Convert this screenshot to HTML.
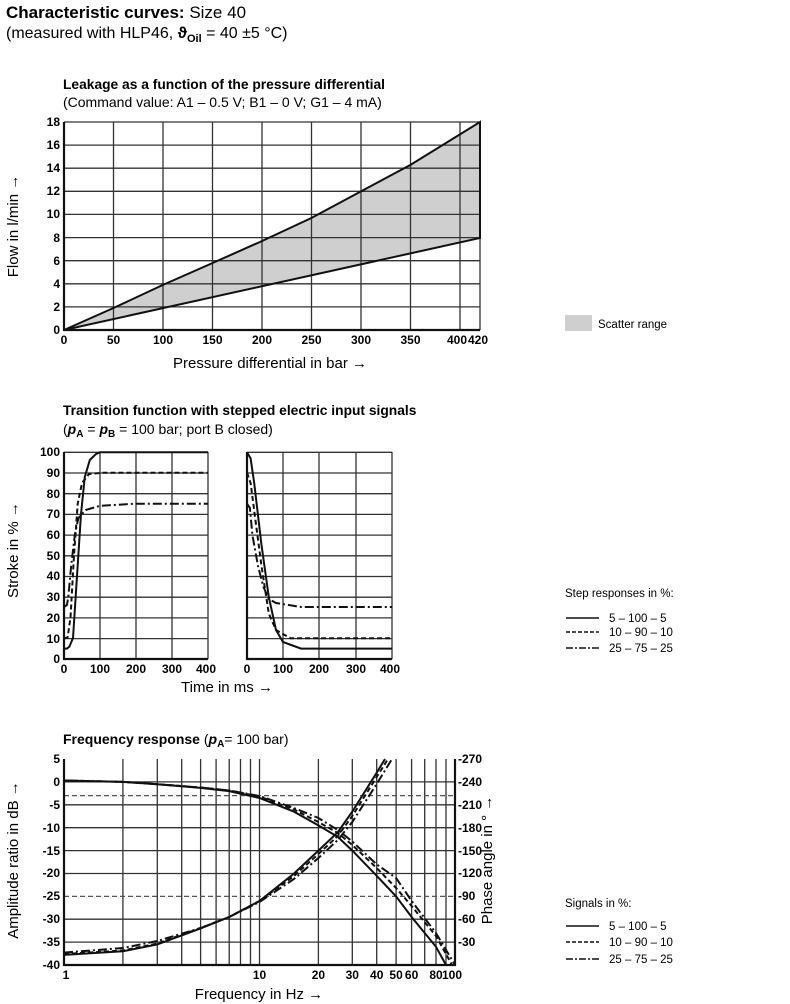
<!DOCTYPE html>
<html><head><meta charset="utf-8"><style>
body{margin:0;background:#fff;width:790px;height:1004px;overflow:hidden}
svg{display:block;font-family:"Liberation Sans",sans-serif}
.g{stroke:#333;stroke-width:1.3;fill:none}
.c{fill:none;stroke:#111;stroke-width:2}
.t{font-size:12px;font-weight:bold;font-family:"Liberation Sans Narrow","Liberation Sans",sans-serif}
.l{font-size:15px}
</style></head><body>
<svg width="790" height="1004" viewBox="0 0 790 1004">
<text x="6" y="18" font-size="17"><tspan font-weight="bold">Characteristic curves:</tspan> Size 40</text>
<text x="6" y="38" font-size="16">(measured with HLP46, <tspan font-weight="bold">ϑ</tspan><tspan font-weight="bold" font-size="11" dy="4">Oil</tspan><tspan dy="-4"> = 40 ±5 °C)</tspan></text>

<!-- Chart 1 -->
<text x="63" y="89" font-size="13.8" font-weight="bold">Leakage as a function of the pressure differential</text>
<text x="63" y="107" font-size="14">(Command value: A1 – 0.5 V; B1 – 0 V; G1 – 4 mA)</text>
<polygon points="64,330 113.5,308 163,284.9 212.6,263 262.1,241 311.6,217.9 361.2,191.3 410.7,164.7 480,122 480,238" fill="#cfcfcf"/>
<g class="g">
<path d="M113.5,122V330M163,122V330M212.5,122V330M262,122V330M311.5,122V330M361,122V330M410.5,122V330M460,122V330M480,122V330"/>
<path d="M64,122H480M64,145.1H480M64,168.2H480M64,191.3H480M64,214.4H480M64,237.6H480M64,260.7H480M64,283.8H480M64,306.9H480"/>
</g>
<path d="M64,122V330H480" fill="none" stroke="#111" stroke-width="2.2"/>
<path class="c" d="M64,330L113.5,308L163,284.9L212.6,263L262.1,241L311.6,217.9L361.2,191.3L410.7,164.7L480,122V238L64,330"/>
<g class="t" text-anchor="end">
<text x="60" y="126">18</text><text x="60" y="149">16</text><text x="60" y="172">14</text><text x="60" y="195">12</text><text x="60" y="218">10</text><text x="60" y="242">8</text><text x="60" y="265">6</text><text x="60" y="288">4</text><text x="60" y="311">2</text><text x="60" y="334">0</text>
</g>
<g class="t" text-anchor="middle">
<text x="64" y="344">0</text><text x="113.5" y="344">50</text><text x="163" y="344">100</text><text x="212.5" y="344">150</text><text x="262" y="344">200</text><text x="311.5" y="344">250</text><text x="361" y="344">300</text><text x="410.5" y="344">350</text><text x="457" y="344">400</text><text x="478" y="344">420</text>
</g>
<text x="270" y="368" class="l" text-anchor="middle">Pressure differential in bar →</text>
<text transform="translate(18,226) rotate(-90)" class="l" text-anchor="middle">Flow in l/min →</text>
<rect x="565" y="315" width="27" height="16" fill="#cfcfcf"/>
<text x="598" y="328" font-size="11.5">Scatter range</text>

<!-- Chart 2 -->
<text x="63" y="415" font-size="13.8" font-weight="bold">Transition function with stepped electric input signals</text>
<text x="63" y="434" font-size="14">(<tspan font-weight="bold" font-style="italic">p</tspan><tspan font-weight="bold" font-size="10" dy="3">A</tspan><tspan dy="-3"> = </tspan><tspan font-weight="bold" font-style="italic">p</tspan><tspan font-weight="bold" font-size="10" dy="3">B</tspan><tspan dy="-3"> = 100 bar; port B closed)</tspan></text>
<g class="g">
<path d="M100,452V659M136,452V659M172,452V659M208,452V659M283,452V659M319,452V659M356,452V659M392,452V659"/>
<path d="M64,452.3H208M64,473H208M64,493.7H208M64,514.4H208M64,535.1H208M64,555.8H208M64,576.5H208M64,597.2H208M64,617.9H208M64,638.6H208"/>
<path d="M247,452.3H392M247,473H392M247,493.7H392M247,514.4H392M247,535.1H392M247,555.8H392M247,576.5H392M247,597.2H392M247,617.9H392M247,638.6H392"/>
</g>
<path d="M64,452V659H208M247,452V659H392" fill="none" stroke="#111" stroke-width="2.2"/>
<path class="c" d="M64,648.6L66.9,648.6L69.4,646.6L73,638L77,576L81,514L84.8,477L89.8,460L96,454L100,452.3L208,452.3"/>
<path class="c" stroke-dasharray="5,3" d="M64,638.3L67.6,637.5L70.5,617.6L74,555.5L77.7,503.7L82,483L89,474L103.6,472.7L208,472.7"/>
<path class="c" stroke-dasharray="9,3,2,3" d="M64,607L66.9,605L68.3,597L71.2,565.5L74.8,534.8L78.4,518L85.6,510L100,505.8L136,503.7L208,503.7"/>
<path class="c" d="M247,452.3L250.6,458.3L254.2,483L261.5,545L268.8,597L276,630L283,642L301,648.6L392,648.6"/>
<path class="c" stroke-dasharray="5,3" d="M247,472.7L250.6,483L256,524.4L261.5,566L268.8,613.5L276,630L290.5,638.3L392,638.3"/>
<path class="c" stroke-dasharray="9,3,2,3" d="M247,503.7L249.9,507.9L252.4,535L258,566L263.3,586.5L268.8,599L276,603L301,607L392,607"/>
<g class="t" text-anchor="end">
<text x="60" y="456">100</text><text x="60" y="477">90</text><text x="60" y="498">80</text><text x="60" y="518">70</text><text x="60" y="539">60</text><text x="60" y="560">50</text><text x="60" y="580">40</text><text x="60" y="601">30</text><text x="60" y="622">20</text><text x="60" y="643">10</text><text x="60" y="663">0</text>
</g>
<g class="t" text-anchor="middle">
<text x="64" y="673">0</text><text x="100" y="673">100</text><text x="136" y="673">200</text><text x="172" y="673">300</text><text x="206" y="673">400</text>
<text x="247" y="673">0</text><text x="283" y="673">100</text><text x="319" y="673">200</text><text x="356" y="673">300</text><text x="390" y="673">400</text>
</g>
<text x="227" y="692" class="l" text-anchor="middle">Time in ms →</text>
<text transform="translate(18,550) rotate(-90)" class="l" text-anchor="middle">Stroke in % →</text>
<text x="565" y="597" font-size="11.5">Step responses in %:</text>
<line x1="566" y1="618" x2="599" y2="618" stroke="#111" stroke-width="1.5"/><text x="609" y="622" font-size="11.5">5 – 100 – 5</text>
<line x1="566" y1="632" x2="599" y2="632" stroke="#111" stroke-width="1.5" stroke-dasharray="4,2"/><text x="609" y="636" font-size="11.5">10 – 90 – 10</text>
<line x1="566" y1="648" x2="599" y2="648" stroke="#111" stroke-width="1.5" stroke-dasharray="7,2,2,2"/><text x="609" y="652" font-size="11.5">25 – 75 – 25</text>

<!-- Chart 3 -->
<text x="63" y="744" font-size="14"><tspan font-weight="bold">Frequency response</tspan> (<tspan font-weight="bold" font-style="italic">p</tspan><tspan font-weight="bold" font-size="10" dy="3">A</tspan><tspan dy="-3">= 100 bar)</tspan></text>
<g class="g">
<path d="M122.9,759V965M157.3,759V965M181.7,759V965M200.6,759V965M216.1,759V965M229.2,759V965M240.5,759V965M250.5,759V965M259.5,759V965M318.4,759V965M352.3,759V965M376.7,759V965M396.1,759V965M411.6,759V965M424.7,759V965M436,759V965M446,759V965M455,759V965"/>
<path d="M64,781.9H455M64,804.8H455M64,827.7H455M64,850.6H455M64,873.5H455M64,919.2H455M64,942.1H455"/>
</g>
<path d="M64,795.6H455M64,896.4H455" stroke="#555" stroke-width="1.2" stroke-dasharray="5,3"/>
<path d="M64,759V965H455V759" fill="none" stroke="#111" stroke-width="2.2"/>
<path class="c" d="M64,780.5L122.9,781.9L157.3,784.2L200.6,787.9L229.2,791.1L259.5,798L294,811.7L318.4,825.4L337.8,836.9L352.3,850.6L376.7,875.8L396.1,896.4L411.6,917L436,946.8L446,965"/>
<path class="c" stroke-dasharray="5,3" d="M64,780.5L122.9,781.9L157.3,784.2L200.6,787.5L229.2,790.5L259.5,796.5L294,809.5L318.4,822L337.8,833L352.3,845L376.7,868L396.1,888L411.6,906L436,936L452,965"/>
<path class="c" stroke-dasharray="9,3,2,3" d="M64,780.5L122.9,781.9L157.3,784.2L200.6,787.5L229.2,790.5L259.5,796L294,808L318.4,818L337.8,830L352.3,841.5L376.7,864.4L396.1,878L411.6,901L436,933L455,965"/>
<path class="c" d="M64,954.9L122.9,951.3L157.3,944.4L200.6,928.4L229.2,917L259.5,901L294,873.5L318.4,850.6L337.8,832.2L352.3,811.6L376.7,772.7L385,759"/>
<path class="c" stroke-dasharray="5,3" d="M64,954L122.9,950.5L157.3,943.5L200.6,928L229.2,917L259.5,901L294,876L318.4,854L337.8,836L352.3,816L376.7,777L388,759"/>
<path class="c" stroke-dasharray="9,3,2,3" d="M64,952.6L122.9,948L157.3,941L200.6,928L229.2,917L259.5,902L294,879L318.4,858L337.8,840L352.3,822L376.7,784L392,759"/>
<g class="t" text-anchor="end">
<text x="60" y="763">5</text><text x="60" y="786">0</text><text x="60" y="809">-5</text><text x="60" y="832">-10</text><text x="60" y="855">-15</text><text x="60" y="877">-20</text><text x="60" y="900">-25</text><text x="60" y="923">-30</text><text x="60" y="946">-35</text><text x="60" y="969">-40</text>
</g>
<g class="t">
<text x="458" y="763">-270</text><text x="458" y="786">-240</text><text x="458" y="809">-210</text><text x="458" y="832">-180</text><text x="458" y="855">-150</text><text x="458" y="877">-120</text><text x="458" y="900">-90</text><text x="458" y="923">-60</text><text x="458" y="946">-30</text>
</g>
<g class="t" text-anchor="middle">
<text x="66" y="979">1</text><text x="259.5" y="979">10</text><text x="318.4" y="979">20</text><text x="352.3" y="979">30</text><text x="376.7" y="979">40</text><text x="396.1" y="979">50</text><text x="411.6" y="979">60</text><text x="436" y="979">80</text><text x="452" y="979">100</text>
</g>
<text x="259" y="999" class="l" text-anchor="middle">Frequency in Hz →</text>
<text transform="translate(18,860) rotate(-90)" class="l" text-anchor="middle">Amplitude ratio in dB →</text>
<text transform="translate(492,860) rotate(-90)" class="l" text-anchor="middle">Phase angle in ° →</text>
<text x="565" y="907" font-size="11.5">Signals in %:</text>
<line x1="566" y1="926" x2="599" y2="926" stroke="#111" stroke-width="1.5"/><text x="609" y="930" font-size="11.5">5 – 100 – 5</text>
<line x1="566" y1="942" x2="599" y2="942" stroke="#111" stroke-width="1.5" stroke-dasharray="4,2"/><text x="609" y="946" font-size="11.5">10 – 90 – 10</text>
<line x1="566" y1="959" x2="599" y2="959" stroke="#111" stroke-width="1.5" stroke-dasharray="7,2,2,2"/><text x="609" y="963" font-size="11.5">25 – 75 – 25</text>
</svg>
</body></html>
